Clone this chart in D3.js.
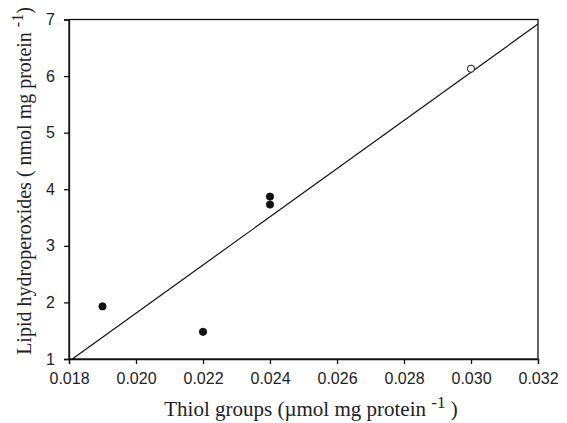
<!DOCTYPE html>
<html>
<head>
<meta charset="utf-8">
<script src="https://cdn.jsdelivr.net/npm/d3@7"></script>
<style>
  body { margin: 0; background: #fff; }
  .tick text { font-family: "Liberation Sans", Arial, sans-serif; font-size: 16px; fill: #222; }
  .title { font-family: "Liberation Serif", "Times New Roman", serif; font-size: 21px; fill: #222; }
</style>
</head>
<body>
<div id="chart"></div>
<script>
// measured points
var thiol = [0.019, 0.022, 0.024, 0.024, 0.030];
var lipid = [1.93, 1.48, 3.87, 3.73, 6.13];
var filled = [true, true, true, true, false];

var xTicks = [0.018, 0.020, 0.022, 0.024, 0.026, 0.028, 0.030, 0.032];
var yTicks = [1, 2, 3, 4, 5, 6, 7];

var width = 567, height = 423;
var margin = {left: 69, right: 29, top: 19.5, bottom: 64};

var svg = d3.select("#chart").append("svg")
    .attr("width", width).attr("height", height);

var x = d3.scaleLinear().domain([0.018, 0.032]).range([margin.left, width - margin.right]);
var y = d3.scaleLinear().domain([1, 7]).range([height - margin.bottom, margin.top]);

// least squares line through the points
var mx = d3.mean(thiol), my = d3.mean(lipid);
var sxy = d3.sum(thiol, function(d, i) { return (d - mx) * (lipid[i] - my); });
var sxx = d3.sum(thiol, function(d) { return (d - mx) * (d - mx); });
var slope = sxy / sxx, icpt = my - slope * mx;
var x0 = Math.max(0.018, (1 - icpt) / slope), x1 = Math.min(0.032, (7 - icpt) / slope);

svg.append("defs").append("clipPath").attr("id", "clip").append("rect")
    .attr("x", x(0.018)).attr("y", y(7)).attr("width", x(0.032) - x(0.018)).attr("height", y(1) - y(7));

svg.append("line")
    .attr("clip-path", "url(#clip)")
    .attr("x1", x(x0)).attr("y1", y(slope * x0 + icpt))
    .attr("x2", x(x1)).attr("y2", y(slope * x1 + icpt))
    .attr("stroke", "#111").attr("stroke-width", 1.2);

// frame
svg.append("rect")
    .attr("x", x(0.018)).attr("y", y(7))
    .attr("width", x(0.032) - x(0.018)).attr("height", y(1) - y(7))
    .attr("fill", "none").attr("stroke", "#111").attr("stroke-width", 1.3);

var xAxis = svg.append("g")
    .attr("transform", "translate(0," + y(1) + ")")
    .call(d3.axisBottom(x).tickValues(xTicks).tickFormat(d3.format(".3f")).tickSize(5).tickPadding(9));
var yAxis = svg.append("g")
    .attr("transform", "translate(" + x(0.018) + ",0)")
    .call(d3.axisLeft(y).tickValues(yTicks).tickFormat(d3.format("d")).tickSize(5).tickPadding(9));
[xAxis, yAxis].forEach(function(a) {
    a.select(".domain").attr("stroke", "#111").attr("stroke-width", 1.3);
    a.selectAll(".tick line").attr("stroke", "#111").attr("stroke-width", 1.3);
});

svg.selectAll("circle.pt").data(thiol)
    .enter().append("circle")
    .attr("class", "pt")
    .attr("cx", function(d) { return x(d); })
    .attr("cy", function(d, i) { return y(lipid[i]); })
    .attr("r", 3.6)
    .attr("fill", function(d, i) { return filled[i] ? "#111" : "#fff"; })
    .attr("stroke", "#111").attr("stroke-width", 1);

// axis titles
var xt = svg.append("text").attr("class", "title")
    .attr("x", 311).attr("y", 416).attr("text-anchor", "middle");
xt.append("tspan").text("Thiol groups (\u00b5mol mg protein ");
xt.append("tspan").attr("dy", -8).attr("font-size", 17).text("-1");
xt.append("tspan").attr("dy", 8).text(" )");

var yt = svg.append("text").attr("class", "title")
    .attr("transform", "translate(31," + 181 + ") rotate(-90)")
    .attr("text-anchor", "middle")
    .style("font-size", "20px");
yt.append("tspan").text("Lipid hydroperoxides ( nmol mg protein ");
yt.append("tspan").attr("dy", -8).attr("font-size", 16).text("-1");
yt.append("tspan").attr("dy", 8).text(")");
</script>
</body>
</html>
